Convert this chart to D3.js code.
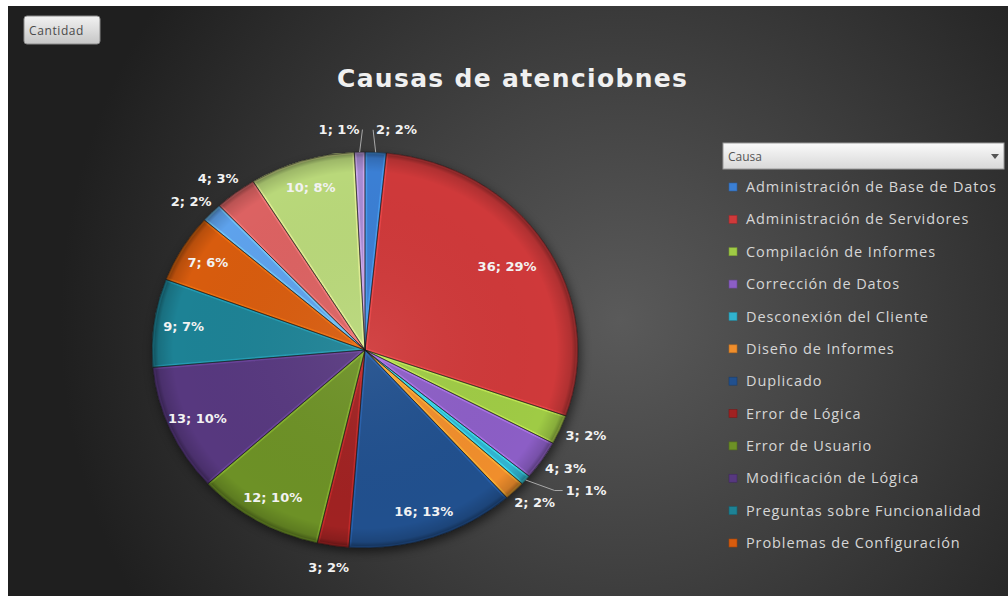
<!DOCTYPE html>
<html>
<head>
<meta charset="utf-8">
<script src="https://cdn.jsdelivr.net/npm/d3@7"></script>
<style>
html, body { margin: 0; padding: 0; background: #fff; }
svg { display: block; }
.lbl { font-family: "DejaVu Sans", sans-serif; font-weight: bold; font-size: 13px; fill: #f2f2f2; }
.leg { font-family: "Open Sans", sans-serif; font-size: 14.5px; fill: #d6d6d6; letter-spacing: 0.9px; }
</style>
</head>
<body>
<svg id="chart" width="1008" height="601"></svg>
<script>
// legend shows only the first 12 causes (rest of the legend is cut off)
const causes = [
    "Administración de Base de Datos",
    "Administración de Servidores",
    "Compilación de Informes",
    "Corrección de Datos",
    "Desconexión del Cliente",
    "Diseño de Informes",
    "Duplicado",
    "Error de Lógica",
    "Error de Usuario",
    "Modificación de Lógica",
    "Preguntas sobre Funcionalidad",
    "Problemas de Configuración"
];
// slice counts, clockwise from 12 o'clock
const counts = [2, 36, 3, 4, 1, 2, 16, 3, 12, 13, 9, 7, 2, 4, 10, 1];
const sliceColors = [
    "#3b7fd4", "#cf393a", "#9fcb45", "#8c5ec6", "#31b3cf", "#f08e2c",
    "#21508e", "#a02222", "#6d9126", "#57387f", "#1d8295", "#d85c0e",
    "#5ea2ec", "#dc6262", "#b9d87a", "#a78bd2"
];
const chartTitle = "Causas de atenciobnes";
const fieldButton = "Cantidad";
const legendField = "Causa";

const svg = d3.select("#chart");
const defs = svg.append("defs");

// background panel
const bg = defs.append("radialGradient").attr("id", "bg")
    .attr("gradientUnits", "userSpaceOnUse")
    .attr("cx", 620).attr("cy", 320).attr("r", 560);
bg.append("stop").attr("offset", 0).attr("stop-color", "#5a5a5a");
bg.append("stop").attr("offset", 0.45).attr("stop-color", "#404040");
bg.append("stop").attr("offset", 1).attr("stop-color", "#1f1f1f");
svg.append("rect").attr("x", 8).attr("y", 6).attr("width", 1000).attr("height", 590)
    .attr("fill", "url(#bg)");

// "Cantidad" field button
const btnG = defs.append("linearGradient").attr("id", "btn").attr("x1", 0).attr("y1", 0).attr("x2", 0).attr("y2", 1);
btnG.append("stop").attr("offset", 0).attr("stop-color", "#f2f2f2");
btnG.append("stop").attr("offset", 1).attr("stop-color", "#c6c6c6");
svg.append("rect").attr("x", 24).attr("y", 16).attr("width", 76).attr("height", 28).attr("rx", 3)
    .attr("fill", "url(#btn)").attr("stroke", "#8a8a8a");
svg.append("text").attr("x", 29).attr("y", 34.5)
    .style("font-family", "Open Sans").style("font-size", "12px").style("letter-spacing", "0.6px")
    .attr("fill", "#4a4a4a").text(fieldButton);

// title
svg.append("text").attr("x", 512).attr("y", 87).attr("text-anchor", "middle")
    .attr("textLength", 350).attr("lengthAdjust", "spacing")
    .style("font-family", "DejaVu Sans").style("font-weight", "bold").style("font-size", "25px")
    .attr("fill", "#f0f0f0").text(chartTitle);

// pie
const cx = 365, cy = 350, rx = 213, ry = 198;
const total = d3.sum(counts);
const pct = d3.format(".0%");
const arcs = d3.pie().sort(null).value(d => d)(counts);
const arc = d3.arc().innerRadius(0).outerRadius(ry);
const pt = (a, kx, ky) => [cx + Math.sin(a) * kx, cy - Math.cos(a) * ky];

const shadow = defs.append("filter").attr("id", "shadow").attr("x", "-20%").attr("y", "-20%").attr("width", "140%").attr("height", "140%");
shadow.append("feGaussianBlur").attr("stdDeviation", 5);

const pieG = svg.append("g").attr("transform", `translate(${cx},${cy}) scale(${rx / ry},1)`);
pieG.append("circle").attr("r", ry).attr("cx", 2).attr("cy", 4)
    .attr("fill", "#000").attr("opacity", 0.55).attr("filter", "url(#shadow)");

arcs.forEach((d, i) => {
    defs.append("clipPath").attr("id", "clip" + i).append("path").attr("d", arc(d));
});

pieG.selectAll(".slice").data(arcs).enter().append("path")
    .attr("class", "slice")
    .attr("d", arc)
    .attr("fill", (d, i) => sliceColors[i]);

// bevel highlight along the slice borders
pieG.selectAll(".bevel").data(arcs).enter().append("path")
    .attr("class", "bevel")
    .attr("d", arc)
    .attr("fill", "none")
    .attr("clip-path", (d, i) => `url(#clip${i})`)
    .attr("stroke", (d, i) => d3.color(sliceColors[i]).brighter(0.9))
    .attr("stroke-opacity", 0.55)
    .attr("stroke-width", 4);

const shade = defs.append("radialGradient").attr("id", "shade");
shade.append("stop").attr("offset", 0).attr("stop-color", "#fff").attr("stop-opacity", 0.06);
shade.append("stop").attr("offset", 0.9).attr("stop-color", "#000").attr("stop-opacity", 0);
shade.append("stop").attr("offset", 0.97).attr("stop-color", "#000").attr("stop-opacity", 0.15);
shade.append("stop").attr("offset", 1).attr("stop-color", "#000").attr("stop-opacity", 0.45);
pieG.append("circle").attr("r", ry).attr("fill", "url(#shade)");

pieG.selectAll(".edge").data(arcs).enter().append("path")
    .attr("class", "edge")
    .attr("d", arc)
    .attr("fill", "none")
    .attr("stroke", "#1b1b1b").attr("stroke-opacity", 0.6).attr("stroke-width", 0.8);

// data labels: inside for big slices, outside (with leader when moved) for small ones
const labelG = svg.append("g");
const outside = [];
arcs.forEach((d, i) => {
    const a = (d.startAngle + d.endAngle) / 2;
    const share = d.value / total;
    const txt = labelG.append("text").attr("class", "lbl")
        .attr("text-anchor", "middle").attr("dy", "0.36em")
        .text(`${d.value}; ${pct(share)}`);
    const w = txt.node().getComputedTextLength(), h = 13;
    if (share >= 0.05) {
        const k = share > 0.2 ? 0.79 : 0.86;
        const c = pt(a, rx * k, ry * k);
        txt.attr("x", c[0]).attr("y", c[1]);
        return;
    }
    const s = Math.sin(a), co = Math.cos(a);
    const A = pt(a, rx + 8, ry + 8);
    const top = Math.abs(s) < 0.1;
    const c0 = [A[0] + (top ? Math.sign(s) : s) * w / 2,
                A[1] - co * (h / 2 + 8 * Math.pow(co, 4))];
    outside.push({ a, s, w, h, c0, txt, top });
});

// place from the bottom up, sliding sideways away from labels already placed
const placed = [];
outside.sort((p, q) => q.c0[1] - p.c0[1]).forEach(p => {
    const c = p.c0.slice();
    const hits = () => placed.some(o =>
        Math.abs(o.c[0] - c[0]) < (o.w + p.w) / 2 + 10 && Math.abs(o.c[1] - c[1]) < (o.h + p.h) / 2 + 6);
    let n = 0;
    while (hits() && n++ < 300) c[0] += p.s < 0 ? -1 : 1;
    placed.push({ c, w: p.w, h: p.h });
    p.txt.attr("x", c[0]).attr("y", c[1]);

    if (Math.hypot(c[0] - p.c0[0], c[1] - p.c0[1]) > 3 || p.top) {
        const E = pt(p.a, rx, ry);
        const dir = c[0] > E[0] ? 1 : -1;
        const bx = c[0] - dir * (p.w / 2 + 3);
        let ex = bx - dir * 8;
        if (dir > 0) ex = Math.min(bx, Math.max(E[0], ex)); else ex = Math.max(bx, Math.min(E[0], ex));
        labelG.append("polyline")
            .attr("points", [E, [ex, c[1]], [bx, c[1]]].map(q => q.join(",")).join(" "))
            .attr("fill", "none").attr("stroke", "#a8a8a8").attr("stroke-width", 1);
    }
});

// legend
const ddG = defs.append("linearGradient").attr("id", "dd").attr("x1", 0).attr("y1", 0).attr("x2", 0).attr("y2", 1);
ddG.append("stop").attr("offset", 0).attr("stop-color", "#fafafa");
ddG.append("stop").attr("offset", 1).attr("stop-color", "#d8d8d8");
svg.append("rect").attr("x", 723).attr("y", 143).attr("width", 281).attr("height", 26)
    .attr("fill", "url(#dd)").attr("stroke", "#9a9a9a");
svg.append("text").attr("x", 728).attr("y", 160.5)
    .style("font-family", "Open Sans").style("font-size", "12px")
    .attr("fill", "#555").text(legendField);
svg.append("path").attr("d", "M991,154 L999,154 L995,159 Z").attr("fill", "#555");

const ly = d3.scalePoint().domain(d3.range(causes.length)).range([187, 543]);
const legG = svg.append("g");
const item = legG.selectAll("g").data(causes).enter().append("g")
    .attr("transform", (d, i) => `translate(0,${ly(i)})`);
item.append("rect").attr("x", 729).attr("y", -4).attr("width", 8).attr("height", 8)
    .attr("fill", (d, i) => sliceColors[i])
    .attr("stroke", (d, i) => d3.color(sliceColors[i]).darker(0.8)).attr("stroke-width", 0.6);
item.append("text").attr("class", "leg").attr("x", 746).attr("dy", "0.35em").text(d => d);
</script>
</body>
</html>
